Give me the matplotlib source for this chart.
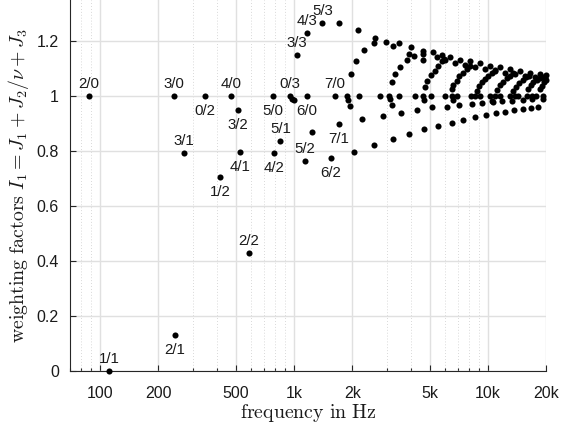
import matplotlib
matplotlib.use('Agg')
from matplotlib import pyplot as plt
from matplotlib.ticker import FixedLocator, LogLocator, NullFormatter

# labelled modes m/n: eigenfrequency in Hz and weighting factor
mode_names = ['2/0', '1/1', '3/0', '2/1', '3/1', '0/2', '1/2', '4/0', '3/2', '4/1',
              '2/2', '5/0', '4/2', '5/1', '0/3', '3/3', '5/2', '6/0', '4/3', '5/3',
              '6/2', '7/0', '7/1']
mode_freqs = [87.7, 111, 241, 242, 270, 349, 416, 472, 513, 527,
              586, 776, 785, 850, 953, 1036, 1135, 1162, 1171, 1400,
              1551, 1621, 1706]
mode_weights = [1.0, 0.0, 1.0, 0.131, 0.794, 1.0, 0.705, 1.0, 0.949, 0.797,
                0.431, 1.0, 0.793, 0.837, 1.0, 1.150, 0.763, 1.0, 1.230, 1.268,
                0.774, 1.0, 0.897]

# remaining (unlabelled) modes
other_freqs = [
    976, 1004, 1238,
    # J1 + J3 = 1 row
    1869, 2155, 2776, 3099, 3465, 4220, 4640, 5064, 6003, 6501, 6946, 8143,
    8570, 9041, 10240, 10870, 11530, 12990, 13780, 14280, 15890, 16860, 17680, 19280,
    1898, 1951, 3125, 3201, 4690, 6560, 10450,
    # n = 1
    2250, 2876, 3560, 4322, 5163, 6124, 7113, 8241, 9280, 10650, 11810, 13290,
    15150, 16860, 19200,
    # n = 2
    2038, 2591, 3228, 3929, 4696, 5544, 6501, 7459, 8570, 9765, 11000, 12230,
    13610, 15100, 16600, 18170,
    # upper branch
    1712, 2130, 2625, 2585, 2981, 3465, 3228, 4023, 3902, 4170, 4640, 4640,
    4640, 3810, 3531, 3327, 3188, 2295, 2087, 1960,
    4735, 4831, 5064, 5331, 5544, 5771,
    6501, 6617, 6899, 7113, 7397, 7758,
    8810, 9020, 9280, 9650, 10035, 10450,
    11170, 11530, 11990, 12490, 12985,
    13500, 13940, 14500, 15100, 15700,
    16140, 16600, 17120, 17820, 18535,
    18620, 18980, 19440, 19910,
    5224, 5771, 6369, 7172, 8075, 9094, 10240, 11530, 12985, 14620, 16465,
    18535, 19910,
    5459, 6003, 6761, 7613, 8570, 9650, 10870, 12235, 13780, 15510, 17470, 19670,
    5933, 8075, 10870, 13500, 16300, 19280,
]
other_weights = [
    0.989, 0.986, 0.871,
    1.0, 1.0, 1.0, 1.0, 1.0, 1.0, 1.0, 1.0, 1.0, 1.0, 1.0, 1.0,
    1.0, 1.0, 1.0, 1.0, 1.0, 1.0, 1.0, 1.0, 1.0, 1.0, 1.0, 1.0,
    0.985, 0.965, 0.989, 0.968, 0.986, 0.985, 0.983,
    0.916, 0.928, 0.940, 0.950, 0.959, 0.962, 0.967, 0.972, 0.974, 0.979, 0.982, 0.984,
    0.986, 0.988, 0.989,
    0.796, 0.821, 0.843, 0.861, 0.880, 0.892, 0.904, 0.914, 0.924, 0.932, 0.938, 0.944,
    0.949, 0.953, 0.956, 0.960,
    1.265, 1.241, 1.212, 1.193, 1.198, 1.193, 1.181, 1.180, 1.153, 1.147, 1.165, 1.153,
    1.130, 1.130, 1.108, 1.079, 1.050, 1.169, 1.129, 1.081,
    1.032, 1.056, 1.077, 1.092, 1.110, 1.127,
    1.026, 1.040, 1.056, 1.072, 1.086, 1.099,
    1.019, 1.038, 1.050, 1.062, 1.072, 1.084,
    1.023, 1.040, 1.052, 1.065, 1.074,
    1.019, 1.035, 1.047, 1.059, 1.068,
    1.026, 1.040, 1.050, 1.059, 1.067,
    1.026, 1.038, 1.050, 1.059,
    1.159, 1.150, 1.141, 1.131, 1.127, 1.119, 1.111, 1.105, 1.099, 1.092, 1.086,
    1.080, 1.077,
    1.142, 1.131, 1.120, 1.113, 1.106, 1.099, 1.091, 1.086, 1.080, 1.075, 1.069, 1.066,
    1.135, 1.111, 1.095, 1.084, 1.075, 1.071,
]

tick_freqs = [100, 200, 500, 1000, 2000, 5000, 10000, 20000]
tick_names = ['100', '200', '500', '1k', '2k', '5k', '10k', '20k']
y_ticks = [0, 0.2, 0.4, 0.6, 0.8, 1.0, 1.2]

labels_below = {'2/1', '0/2', '1/2', '3/2', '4/1', '5/0', '4/2', '6/0', '6/2', '7/1'}

plt.rcParams['mathtext.fontset'] = 'cm'
plt.rcParams['font.family'] = ['Liberation Sans', 'DejaVu Sans']

fig = plt.figure(figsize=(5.61, 4.32), dpi=100)
ax = fig.add_axes([0.1248, 0.1412, 0.8492, 0.8588])

ax.plot(other_freqs, other_weights, 'o', color='black', ms=4.4, mec='none', clip_on=False, zorder=3)
ax.plot(mode_freqs, mode_weights, 'o', color='black', ms=4.4, mec='none', clip_on=False, zorder=3)

for name, f, w in zip(mode_names, mode_freqs, mode_weights):
    dy = -10.8 if name in labels_below else 8.6
    ax.annotate(name, (f, w), xytext=(0, dy), textcoords='offset points',
                ha='center', va='center', fontsize=10.8, color='#1a1a1a')

ax.set_xscale('log')
ax.set_xlim(70, 20000)
ax.set_ylim(0, 1.35)

ax.xaxis.set_major_locator(FixedLocator(tick_freqs))
ax.set_xticklabels(tick_names)
ax.xaxis.set_minor_locator(LogLocator(base=10, subs=range(2, 10)))
ax.xaxis.set_minor_formatter(NullFormatter())
ax.set_yticks(y_ticks)
ax.set_yticklabels(['%g' % v for v in y_ticks])

ax.grid(which='major', color='#e0e0e0', lw=1.0, ls='-')
ax.grid(which='minor', axis='x', color='#cccccc', lw=0.6, ls=(0, (1, 2.5)))
ax.set_axisbelow(True)

for side in ['top', 'right']:
    ax.spines[side].set_visible(False)
for side in ['left', 'bottom']:
    ax.spines[side].set_color('#262626')
    ax.spines[side].set_linewidth(0.8)

ax.tick_params(which='both', direction='in', color='#262626', width=0.8)
ax.tick_params(axis='x', which='major', length=4, labelsize=11.5, pad=10.5, labelcolor='#1a1a1a')
ax.tick_params(axis='y', which='major', length=4, labelsize=11.5, pad=8, labelcolor='#1a1a1a')
ax.tick_params(which='minor', length=2)

ax.set_xlabel(r'$\mathrm{frequency\ in\ Hz}$', fontsize=14.3, labelpad=1, color='#1a1a1a')
ax.set_ylabel(r'$\mathrm{weighting\ factors}\ I_1 = J_1 + J_2/\nu + J_3$',
              fontsize=14.3, labelpad=4, color='#1a1a1a')

fig.savefig('out.png', dpi=100)
